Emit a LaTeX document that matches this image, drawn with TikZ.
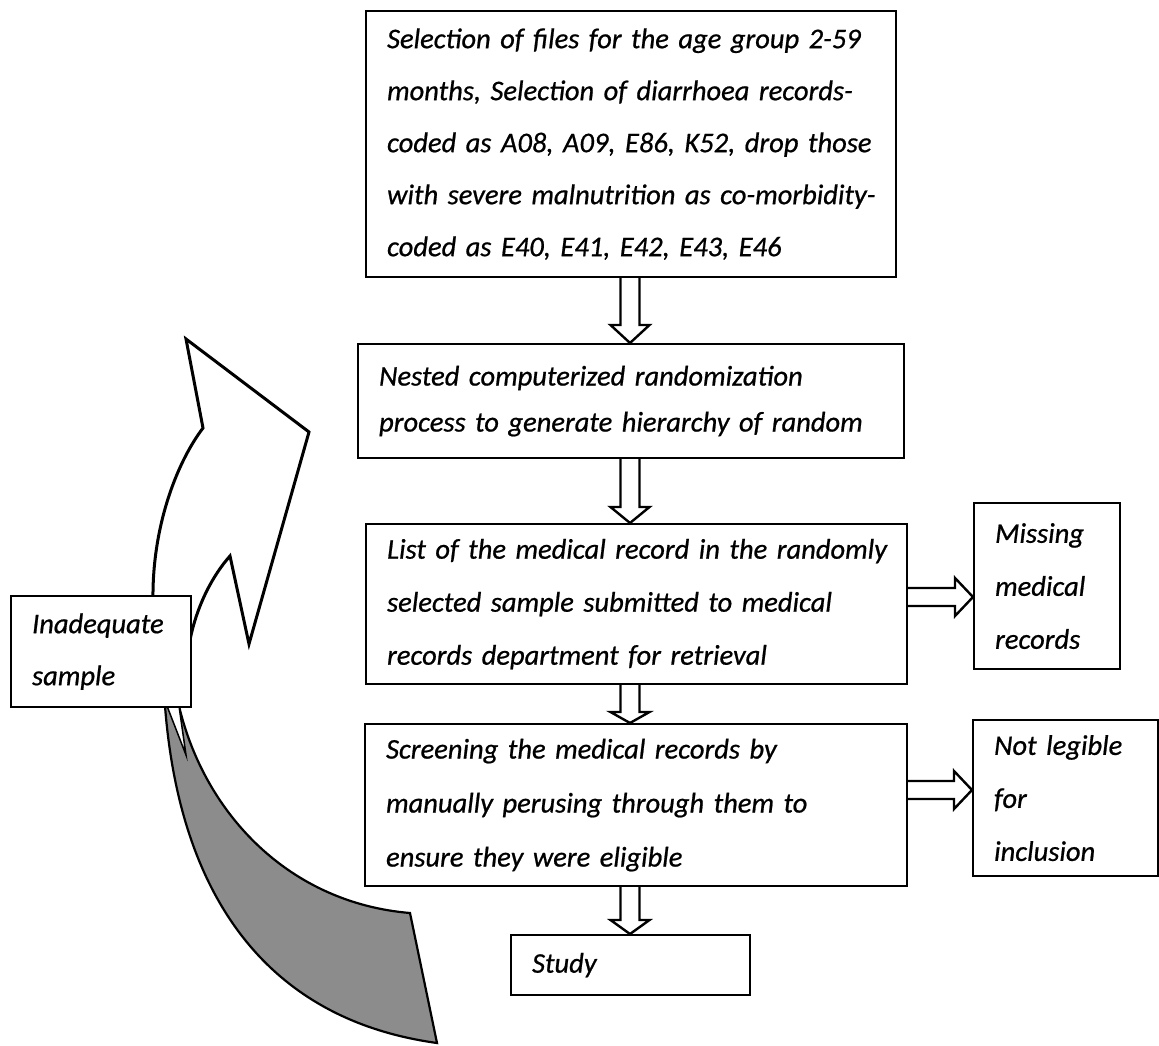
\documentclass[tikz,border=0pt]{standalone}
\usepackage{fontspec}
\setmainfont{Carlito}[ItalicFeatures={FakeBold=0.7}]
\usetikzlibrary{calc}
\begin{document}
\begin{tikzpicture}[x=1pt,y=-1pt,
  box/.style={draw, line width=2.2pt, fill=white, align=left, anchor=north west,
    inner xsep=21pt, inner ysep=0pt},
  ls/.style={font=\fontsize{28.5}{#1}\selectfont\itshape},
  ls/.default=53,
  blk/.style={draw, line width=2.4pt, line join=miter},
  blockdown/.style={to path={let \p1=(\tikztostart), \p2=(\tikztotarget) in
    (\x1-9.5pt,\y1) -- (\x1-9.5pt,\y2+#1pt) -- (\x1-19.5pt,\y2+#1pt) -- (\x1,\y2)
    -- (\x1+19.5pt,\y2+#1pt) -- (\x1+9.5pt,\y2+#1pt) -- (\x1+9.5pt,\y1)}},
  blockdown/.default=16,
  blockright/.style={to path={let \p1=(\tikztostart), \p2=(\tikztotarget) in
    (\x1,\y1+9pt) -- (\x2-18pt,\y1+9pt) -- (\x2-18pt,\y1+19pt) -- (\x2,\y1)
    -- (\x2-18pt,\y1-19pt) -- (\x2-18pt,\y1-9pt) -- (\x1,\y1-9pt)}}
]
\useasboundingbox (0,0) rectangle (1159,1046);

% curved feedback arrow (white part)
\draw[line width=3pt, fill=white, line join=miter]
  (153,625) -- (153,600) .. controls (152,530) and (175,465) .. (203,428)
  -- (186,339) -- (309,432) -- (249,644) -- (230,556)
  .. controls (213,575) and (197,605) .. (190,640) -- (178,650) -- cycle;
% curved feedback arrow (shaded back part)
\draw[line width=2.2pt, fill=black!45, line join=miter]
  (165,706) .. controls (180,900) and (270,1020) .. (437,1043)
  -- (410,913) .. controls (290,903) and (205,815) .. (179,706) -- cycle;
\draw[line width=1.5pt, fill=white] (167,706) -- (186,755) -- (179,706);

% boxes
\node[box, ls=52, minimum width=530pt, text width=488pt, minimum height=266pt] (b1) at (365,10)
 {\mbox{Selection of files for the age group 2-59}\\
  \mbox{months, Selection of diarrhoea records-}\\
  \mbox{coded as A08, A09, E86, K52, drop those}\\
  \mbox{with severe malnutrition as co-morbidity-}\\
  \mbox{coded as E40, E41, E42, E43, E46}};
\node[box, ls=46, minimum width=546pt, text width=504pt, minimum height=114pt] (b2) at (357,343)
 {\mbox{Nested computerized randomization}\\
  \mbox{process to generate hierarchy of random}};
\node[box, ls=53, minimum width=541pt, text width=499pt, minimum height=160pt] (b3) at (365,523)
 {\mbox{List of the medical record in the randomly}\\
  \mbox{selected sample submitted to medical}\\
  \mbox{records department for retrieval}};
\node[box, ls=54, minimum width=542pt, text width=500pt, minimum height=162pt] (b4) at (364,723)
 {\mbox{Screening the medical records by}\\
  \mbox{manually perusing through them to}\\
  \mbox{ensure they were eligible}};
\node[box, ls=53, minimum width=146pt, text width=104pt, minimum height=166pt] (miss) at (973,502)
 {Missing\\ medical\\ records};
\node[box, ls=53, minimum width=185pt, text width=143pt, minimum height=156pt] (notl) at (972,719)
 {\mbox{Not legible}\\ for\\ inclusion};
\node[box, ls=52, minimum width=180pt, text width=138pt, minimum height=111pt] (inad) at (10,595)
 {\mbox{Inadequate}\\ sample};
\node[box, ls=53, minimum width=239pt, text width=197pt, minimum height=60pt] (study) at (510,934)
 {Study};

% connectors
\coordinate (axis) at (630,0);
\coordinate (r1) at (0,597);
\coordinate (r2) at (0,790);
\draw[blk, blockdown=18] (b1.south -| axis) to (b2.north -| axis);
\draw[blk, blockdown=16] (b2.south -| axis) to (b3.north -| axis);
\draw[blk, blockdown=11] (b3.south -| axis) to (b4.north -| axis);
\draw[blk, blockdown=14] (b4.south -| axis) to (study.north -| axis);
\draw[blk, blockright] (b3.east |- r1) to (miss.west |- r1);
\draw[blk, blockright] (b4.east |- r2) to (notl.west |- r2);
\end{tikzpicture}
\end{document}
